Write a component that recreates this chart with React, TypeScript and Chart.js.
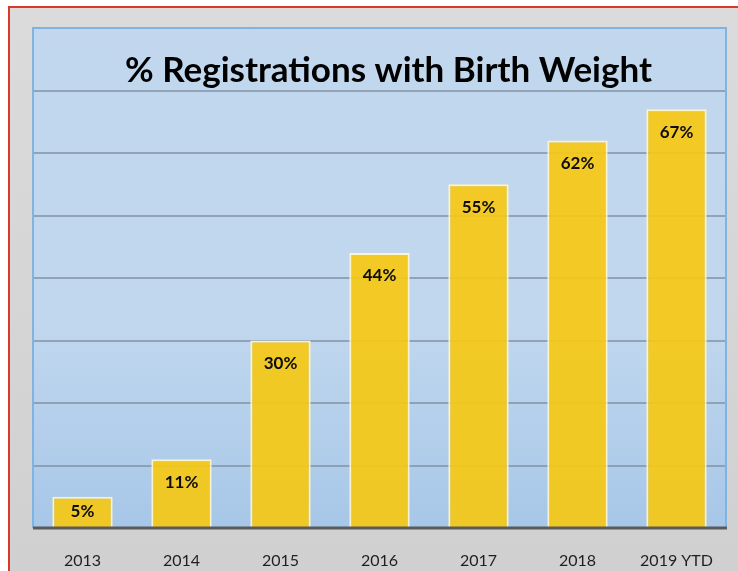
import React, { useEffect, useRef } from 'react';
import { Chart, registerables } from 'chart.js';

Chart.register(...registerables);

const categories = ['2013', '2014', '2015', '2016', '2017', '2018', '2019 YTD'];
const values = [5, 11, 30, 44, 55, 62, 67];
const valueLabels = ['5%', '11%', '30%', '44%', '55%', '62%', '67%'];
const chartTitle = '% Registrations with Birth Weight';
const yMin = 0;
const yMax = 80;
const yStep = 10;

const W = 738;
const H = 571;

const plotBackground = {
  id: 'plotBackground',
  beforeDraw(chart: any) {
    const { ctx, chartArea } = chart;
    const { left, top, right, bottom } = chartArea;
    ctx.save();
    const g = ctx.createLinearGradient(0, top, 0, bottom);
    g.addColorStop(0, '#c2d7ed');
    g.addColorStop(0.6, '#c0d7ee');
    g.addColorStop(1, '#a7c7e8');
    ctx.fillStyle = g;
    ctx.fillRect(left, top, right - left, bottom - top);
    ctx.restore();
  },
  afterDraw(chart: any) {
    const { ctx, chartArea } = chart;
    const { left, top, right, bottom } = chartArea;
    ctx.save();
    ctx.strokeStyle = '#7fb3e2';
    ctx.lineWidth = 2;
    ctx.beginPath();
    ctx.moveTo(left, bottom);
    ctx.lineTo(left, top);
    ctx.lineTo(right, top);
    ctx.lineTo(right, bottom);
    ctx.stroke();
    ctx.strokeStyle = '#5a5a5a';
    ctx.lineWidth = 3;
    ctx.beginPath();
    ctx.moveTo(left, bottom);
    ctx.lineTo(right + 1, bottom);
    ctx.stroke();
    ctx.restore();
  },
};

const labelsPlugin = {
  id: 'labelsPlugin',
  afterDatasetsDraw(chart: any) {
    const { ctx, chartArea } = chart;
    ctx.save();
    ctx.fillStyle = '#0d0d0d';
    ctx.textAlign = 'center';
    ctx.textBaseline = 'middle';
    ctx.font = 'bold 17px Lato';
    const meta = chart.getDatasetMeta(0);
    meta.data.forEach((bar: any, i: number) => {
      const y = Math.min(bar.y + 23, (bar.y + bar.base) / 2);
      ctx.fillText(valueLabels[i], bar.x, y);
    });
    ctx.font = 'bold 35px Lato';
    ctx.fillStyle = '#000000';
    ctx.fillText(chartTitle, (chartArea.left + chartArea.right) / 2 + 9, chartArea.top + 43);
    ctx.restore();
  },
};

export default function App() {
  const canvasRef = useRef<HTMLCanvasElement | null>(null);

  useEffect(() => {
    if (!canvasRef.current) return;
    const chart = new Chart(canvasRef.current, {
      type: 'bar',
      data: {
        labels: categories,
        datasets: [
          {
            data: values,
            backgroundColor: 'rgba(245, 200, 22, 0.93)',
            borderColor: 'rgba(255, 244, 205, 0.95)',
            borderWidth: 2,
            borderSkipped: 'bottom',
            categoryPercentage: 1,
            barPercentage: 0.61,
          },
        ],
      },
      options: {
        responsive: false,
        animation: false,
        events: [],
        layout: { padding: { left: 33, top: 28, right: 12, bottom: 0 } },
        plugins: {
          legend: { display: false },
          title: { display: false },
          tooltip: { enabled: false },
        },
        scales: {
          x: {
            grid: { display: false, drawTicks: false },
            border: { display: false },
            ticks: {
              color: '#1f1f1f',
              font: { family: 'Lato', size: 16 },
              padding: 23,
              maxRotation: 0,
            },
            afterFit(scale: any) {
              scale.height = 43;
            },
          },
          y: {
            min: yMin,
            max: yMax,
            ticks: { display: false, stepSize: yStep },
            border: { display: false },
            grid: {
              drawTicks: false,
              lineWidth: 2,
              color: (c: any) =>
                c.tick && (c.tick.value === yMin || c.tick.value === yMax)
                  ? 'rgba(0,0,0,0)'
                  : 'rgba(130, 145, 162, 0.75)',
            },
            afterFit(scale: any) {
              scale.width = 0;
            },
          },
        },
      },
      plugins: [plotBackground, labelsPlugin],
    });
    return () => chart.destroy();
  }, []);

  return (
    <div
      style={{
        position: 'fixed',
        left: 0,
        top: 0,
        width: W,
        height: H,
        background: '#ffffff',
        overflow: 'hidden',
      }}
    >
      <div
        style={{
          position: 'absolute',
          left: 8,
          top: 6,
          width: W,
          height: H,
          border: '2px solid #d93a28',
          background: 'linear-gradient(#dbdbdb, #d0d0d0)',
          boxSizing: 'border-box',
        }}
      />
      <canvas
        ref={canvasRef}
        width={W}
        height={H}
        style={{ position: 'absolute', left: 0, top: 0, width: W, height: H }}
      />
    </div>
  );
}
